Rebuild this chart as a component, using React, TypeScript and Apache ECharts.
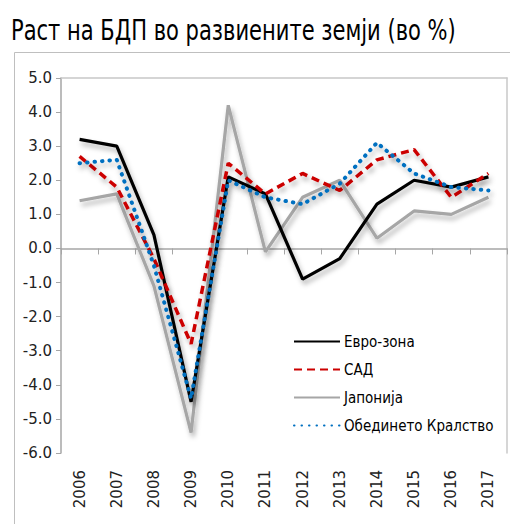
import React, { useEffect, useRef } from "react";
import * as echarts from "echarts";

const years = ["2006", "2007", "2008", "2009", "2010", "2011", "2012", "2013", "2014", "2015", "2016", "2017"];
const euro = [3.2, 3.0, 0.4, -4.5, 2.1, 1.6, -0.9, -0.3, 1.3, 2.0, 1.8, 2.1];
const usa = [2.7, 1.8, -0.3, -2.8, 2.5, 1.6, 2.2, 1.7, 2.6, 2.9, 1.5, 2.2];
const japan = [1.4, 1.6, -1.1, -5.4, 4.2, -0.1, 1.5, 2.0, 0.3, 1.1, 1.0, 1.5];
const uk = [2.5, 2.6, -0.5, -4.4, 2.0, 1.5, 1.3, 1.9, 3.1, 2.2, 1.8, 1.7];
const seriesNames = ["Евро-зона", "САД", "Јапонија", "Обединето Кралство"];
const title = "Раст на БДП во развиените земји (во %)";

const axisGray = "#a6a6a6";
const shadow = { shadowColor: "rgba(0,0,0,0.3)", shadowBlur: 5, shadowOffsetX: 2, shadowOffsetY: 4 };
const narrow = "'DejaVu Sans Condensed', 'DejaVu Sans', sans-serif";

export default function App() {
  const ref = useRef<HTMLDivElement>(null);
  useEffect(() => {
    const chart = echarts.init(ref.current!, null, { renderer: "svg" });
    chart.setOption({
      animation: false,
      backgroundColor: "#fff",
      graphic: [
        { type: "rect", shape: { x: 14.5, y: 52.5, width: 700, height: 700 }, style: { fill: "none", stroke: "#bfbfbf", lineWidth: 1 }, silent: true },
        {
          type: "text", x: 11, y: 16, scaleX: 0.835, scaleY: 1, silent: true,
          style: { text: title, fontFamily: narrow, fontSize: 28, fill: "#000", verticalAlign: "top", align: "left" },
        },
      ],
      grid: { left: 61, right: 3, top: 78, bottom: 71 },
      legend: {
        orient: "vertical",
        left: 288,
        top: 329,
        itemWidth: 46,
        itemHeight: 14,
        itemGap: 13,
        data: seriesNames,
        itemStyle: { opacity: 0 },
        textStyle: { fontFamily: narrow, fontSize: 15, lineHeight: 15, color: "#000", padding: [0, 0, 0, -1] },
      },
      xAxis: [
        {
          type: "category",
          data: years,
          position: "bottom",
          boundaryGap: true,
          axisLine: { onZero: true, lineStyle: { color: axisGray, width: 1.5 } },
          axisTick: { show: true, length: 6, lineStyle: { color: axisGray } },
          axisLabel: { show: false },
          splitLine: { show: false },
        },
        {
          type: "category",
          data: years,
          position: "bottom",
          axisLine: { show: false, onZero: false },
          axisTick: { show: false },
          axisLabel: { rotate: 90, margin: 17, fontSize: 15, fontFamily: "'DejaVu Sans', sans-serif", color: "#222" },
          splitLine: { show: false },
        },
        {
          type: "category",
          data: years,
          position: "top",
          axisLine: { show: true, onZero: false, lineStyle: { color: "#c8c8c8", width: 1.5 } },
          axisTick: { show: false },
          axisLabel: { show: false },
          splitLine: { show: false },
        },
      ],
      yAxis: [
        {
          type: "value",
          min: -6,
          max: 5,
          interval: 1,
          axisLine: { show: true, lineStyle: { color: axisGray, width: 1.5 } },
          axisTick: { show: true, length: 5, lineStyle: { color: axisGray } },
          axisLabel: { margin: 9, fontSize: 15, fontFamily: "'DejaVu Sans', sans-serif", color: "#222", formatter: (v: number) => v.toFixed(1) },
          splitLine: { show: false },
        },
        {
          type: "value",
          min: -6,
          max: 5,
          interval: 1,
          position: "right",
          axisLine: { show: true, lineStyle: { color: "#c8c8c8", width: 1.5 } },
          axisTick: { show: false },
          axisLabel: { show: false },
          splitLine: { show: false },
        },
      ],
      series: [
        {
          name: seriesNames[2], type: "line", data: japan, symbol: "none", z: 2,
          lineStyle: { color: "#a6a6a6", width: 3.2, ...shadow }, itemStyle: { color: "#a6a6a6" },
        },
        {
          name: seriesNames[0], type: "line", data: euro, symbol: "none", z: 3,
          lineStyle: { color: "#000", width: 3.2, ...shadow }, itemStyle: { color: "#000" },
        },
        {
          name: seriesNames[1], type: "line", data: usa, symbol: "none", z: 4,
          lineStyle: { color: "#cc0000", width: 3.5, type: [8, 5], ...shadow }, itemStyle: { color: "#cc0000" },
        },
        {
          name: seriesNames[3], type: "line", data: uk, symbol: "none", z: 5,
          lineStyle: { color: "#0070c0", width: 4, type: [0.5, 7], cap: "round", ...shadow }, itemStyle: { color: "#0070c0" },
        },
      ],
    });
    return () => chart.dispose();
  }, []);
  return <div ref={ref} style={{ position: "fixed", left: 0, top: 0, width: 510, height: 524 }} />;
}
